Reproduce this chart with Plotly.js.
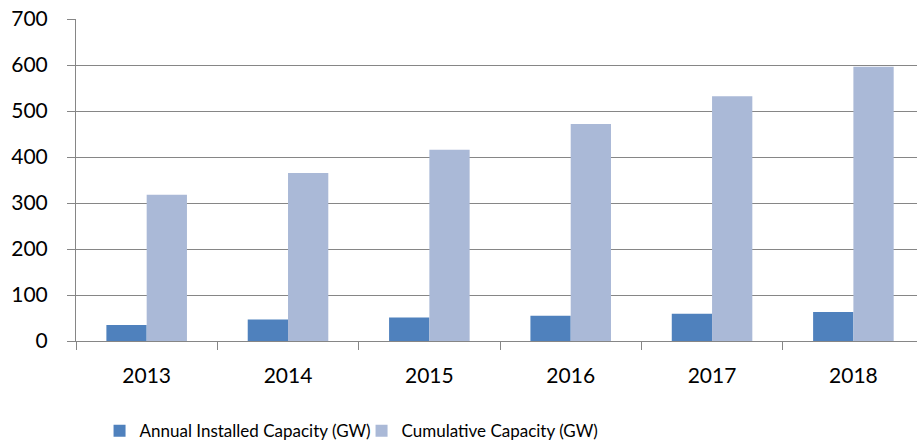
<!DOCTYPE html>
<html>
<head>
<meta charset="utf-8">
<script src="https://cdn.plot.ly/plotly-3.0.1.min.js"></script>
<style>
  html, body { margin: 0; padding: 0; background: #fff; }
  #chart { width: 917px; height: 447px; }
</style>
</head>
<body>
<div id="chart"></div>
<script>
const years = ['2013', '2014', '2015', '2016', '2017', '2018'];
const annualCapacity = [35, 47, 51, 55, 59, 63];
const cumulativeCapacity = [318, 365, 416, 472, 532, 596];

const fontFamily = 'Lato, "Open Sans", sans-serif';
const tickFont = { family: fontFamily, size: 21, color: '#000' };
const legendFont = { family: fontFamily, size: 17, color: '#000' };

const annual = {
  x: years,
  y: annualCapacity,
  name: 'Annual Installed Capacity (GW)',
  type: 'bar',
  marker: { color: '#4F81BD' },
  hoverinfo: 'x+y',
};

const cumulative = {
  x: years,
  y: cumulativeCapacity,
  name: 'Cumulative Capacity (GW)',
  type: 'bar',
  marker: { color: '#AAB9D7' },
  hoverinfo: 'x+y',
};

const layout = {
  width: 917,
  height: 447,
  paper_bgcolor: 'white',
  plot_bgcolor: 'white',
  font: tickFont,
  barmode: 'group',
  bargap: 0.43,
  bargroupgap: 0,
  margin: { l: 76, r: 0, t: 19, b: 106, autoexpand: false },
  xaxis: {
    type: 'category',
    range: [-0.5, 5.45],
    showline: true,
    linecolor: '#868686',
    linewidth: 1,
    ticks: 'outside',
    tickson: 'boundaries',
    ticklen: 8,
    tickcolor: '#868686',
    showgrid: false,
    tickfont: tickFont,
    ticklabelstandoff: 16,
    automargin: false,
  },
  yaxis: {
    range: [0, 700],
    dtick: 100,
    showline: true,
    linecolor: '#868686',
    linewidth: 1,
    ticks: 'outside',
    ticklen: 8,
    tickcolor: '#868686',
    gridcolor: '#868686',
    gridwidth: 1,
    zeroline: false,
    tickfont: tickFont,
    ticklabelstandoff: 15,
    automargin: false,
  },
  showlegend: true,
  legend: {
    orientation: 'h',
    x: 0.028,
    xanchor: 'left',
    y: -0.28,
    yanchor: 'middle',
    font: legendFont,
    entrywidth: 217,
    entrywidthmode: 'pixels',
    itemwidth: 30,
  },
};

const config = { staticPlot: true };

Plotly.newPlot('chart', [annual, cumulative], layout, config);
</script>
</body>
</html>
